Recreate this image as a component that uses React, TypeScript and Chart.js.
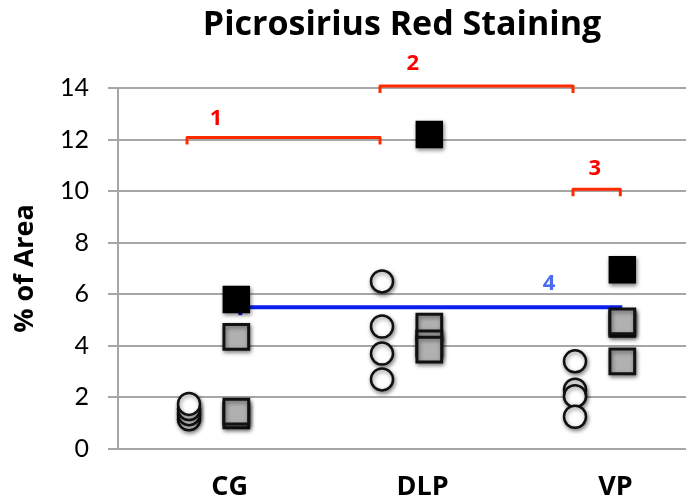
import React, { useEffect, useRef } from "react";
import { Chart, registerables } from "chart.js";

Chart.register(...registerables);

// ---- data ----
const chartTitle = "Picrosirius Red Staining";
const yAxisTitle = "% of Area";
const categories = ["CG", "DLP", "VP"];
const yTickValues = [0, 2, 4, 6, 8, 10, 12, 14];

const cgCircles = [1.15, 1.35, 1.55, 1.75];
const dlpCircles = [6.5, 4.75, 3.7, 2.7];
const vpCircles = [3.4, 2.3, 2.05, 1.25];

const cgGraySquares = [1.3, 1.45, 4.35];
const dlpGraySquares = [4.75, 4.1, 3.85];
const vpGraySquares = [4.85, 4.95, 3.4];

const blackSquares = [5.8, 12.2, 6.95];

// comparison brackets: from group, to group (0 = circles, 1 = squares), level, label
const bracketFromGroup = [0, 1, 2];
const bracketFromKind = [0, 0, 0];
const bracketToGroup = [1, 2, 2];
const bracketToKind = [0, 0, 1];
const bracketLevel = [12, 14, 10];
const bracketLabels = ["1", "2", "3"];

const blueLineFromGroup = 0;
const blueLineToGroup = 2;
const blueLineLevel = 5.5;
const blueLineLabel = "4";

// ---- layout helpers (positions on the numeric x scale) ----
const GROUP_POS = [1, 2, 3];
const SQUARE_OFFSET = 0.245;
const LABEL_OFFSET = 0.21;
const xOf = (g: number, kind: number) => GROUP_POS[g] + (kind ? SQUARE_OFFSET : 0);

const toPoints = (vals: number[], g: number, kind: number) =>
  vals.map((v) => ({ x: xOf(g, kind), y: v }));

const FONT = "Lato, 'Open Sans', sans-serif";
const BOLD_FONT = "'Open Sans', Lato, sans-serif";

const annotationPlugin = {
  id: "annotations",
  beforeDatasetsDraw(chart: any) {
    const { ctx, scales } = chart;
    const xs = scales.x;
    const ys = scales.y;
    ctx.save();
    // red brackets
    const labelFrac = [0.15, 0.17, 0.46];
    const labelRise = [19, 22, 20];
    bracketLevel.forEach((lvl, i) => {
      const x1 = xs.getPixelForValue(xOf(bracketFromGroup[i], bracketFromKind[i])) - 2;
      const x2 = xs.getPixelForValue(xOf(bracketToGroup[i], bracketToKind[i])) - 2;
      const y = ys.getPixelForValue(lvl) - 2;
      ctx.strokeStyle = "#ff2a00";
      ctx.lineWidth = 3;
      ctx.lineJoin = "round";
      ctx.beginPath();
      ctx.moveTo(x1, y + 7);
      ctx.lineTo(x1, y);
      ctx.lineTo(x2, y);
      ctx.lineTo(x2, y + 7);
      ctx.stroke();
      ctx.fillStyle = "#ff0000";
      ctx.font = `bold 22px ${BOLD_FONT}`;
      ctx.textAlign = "center";
      ctx.textBaseline = "middle";
      ctx.fillText(bracketLabels[i], x1 + (x2 - x1) * labelFrac[i], y - labelRise[i]);
    });
    // blue line
    const bx1 = xs.getPixelForValue(xOf(blueLineFromGroup, 1));
    const bx2 = xs.getPixelForValue(xOf(blueLineToGroup, 1));
    const by = ys.getPixelForValue(blueLineLevel);
    ctx.strokeStyle = "#0a1ef0";
    ctx.lineWidth = 4;
    ctx.beginPath();
    ctx.moveTo(bx1, by);
    ctx.lineTo(bx2, by);
    ctx.stroke();
    ctx.beginPath();
    ctx.moveTo(bx1 + 4, by);
    ctx.lineTo(bx1 + 4, by + 8);
    ctx.stroke();
    ctx.fillStyle = "#4a6cf0";
    ctx.font = `bold 22px ${BOLD_FONT}`;
    ctx.textAlign = "center";
    ctx.textBaseline = "middle";
    ctx.fillText(blueLineLabel, bx1 + (bx2 - bx1) * 0.81, by - 23);
    ctx.restore();
  },
  beforeDatasetDraw(chart: any) {
    const ctx = chart.ctx;
    ctx.save();
    ctx.shadowColor = "rgba(0,0,0,0.45)";
    ctx.shadowBlur = 4;
    ctx.shadowOffsetX = 1;
    ctx.shadowOffsetY = 2;
  },
  afterDatasetDraw(chart: any) {
    chart.ctx.restore();
  },
};

export default function App() {
  const canvasRef = useRef<HTMLCanvasElement>(null);

  useEffect(() => {
    if (!canvasRef.current) return;
    const circleData = [
      ...toPoints(cgCircles, 0, 0),
      ...toPoints(dlpCircles, 1, 0),
      ...toPoints(vpCircles, 2, 0),
    ];
    const grayData = [
      ...toPoints(cgGraySquares, 0, 1),
      ...toPoints(dlpGraySquares, 1, 1),
      ...toPoints(vpGraySquares, 2, 1),
    ];
    const blackData = blackSquares.map((v, g) => ({ x: xOf(g, 1), y: v }));
    const labelPositions = GROUP_POS.map((p) => p + LABEL_OFFSET);

    const chart = new Chart(canvasRef.current, {
      type: "scatter",
      data: {
        datasets: [
          {
            label: "black",
            data: blackData,
            pointStyle: "rect",
            pointRadius: 18,
            pointBorderWidth: 2,
            backgroundColor: "#000000",
            borderColor: "#000000",
            clip: false,
          },
          {
            label: "gray",
            data: grayData,
            pointStyle: "rect",
            pointRadius: 17.5,
            pointBorderWidth: 3,
            backgroundColor: "#b0b0b0",
            borderColor: "#111111",
            clip: false,
          },
          {
            label: "circles",
            data: circleData,
            pointStyle: "circle",
            pointRadius: 11,
            pointBorderWidth: 2.5,
            backgroundColor: "#ffffff",
            borderColor: "#111111",
            clip: false,
          },
        ] as any,
      },
      options: {
        responsive: false,
        animation: false,
        layout: { autoPadding: false, padding: { left: 0, right: 0, top: 0, bottom: 0 } },
        plugins: {
          legend: { display: false },
          tooltip: { enabled: false },
          title: {
            display: true,
            text: chartTitle,
            fullSize: false,
            color: "#000",
            font: { family: BOLD_FONT, size: 34, weight: "bold" },
            padding: { top: 5, bottom: 42.2 },
          },
        },
        scales: {
          x: {
            type: "linear",
            min: 0.632,
            max: 3.575,
            grid: { display: false },
            border: { display: false },
            afterBuildTicks: (scale: any) => {
              scale.ticks = labelPositions.map((v) => ({ value: v }));
            },
            afterFit: (scale: any) => {
              scale.height = 53;
              scale.paddingLeft = 0;
              scale.paddingRight = 0;
            },
            ticks: {
              autoSkip: false,
              maxRotation: 0,
              padding: 14,
              color: "#000",
              font: { family: BOLD_FONT, size: 27, weight: "bold" },
              callback: (v: any) => {
                const i = labelPositions.findIndex((p) => Math.abs(p - v) < 1e-6);
                return i >= 0 ? categories[i] : "";
              },
            },
          },
          y: {
            type: "linear",
            min: 0,
            max: 14,
            afterBuildTicks: (scale: any) => {
              scale.ticks = yTickValues.map((v) => ({ value: v }));
            },
            afterFit: (scale: any) => {
              scale.width = 118;
            },
            grid: {
              color: "#a6a6a6",
              lineWidth: 2,
              tickLength: 10,
              tickColor: "#a6a6a6",
            },
            border: { display: true, color: "#a6a6a6", width: 2 },
            ticks: {
              padding: 19,
              color: "#000",
              font: { family: FONT, size: 25 },
            },
            title: {
              display: true,
              text: yAxisTitle,
              color: "#000",
              font: { family: BOLD_FONT, size: 27, weight: "bold" },
              padding: { top: 9, bottom: 0 },
            },
          },
        },
      },
      plugins: [annotationPlugin],
    });
    return () => chart.destroy();
  }, []);

  return (
    <div style={{ position: "fixed", left: 0, top: 0, width: 686, height: 502, background: "#fff" }}>
      <canvas ref={canvasRef} width={686} height={502} style={{ display: "block" }} />
    </div>
  );
}
